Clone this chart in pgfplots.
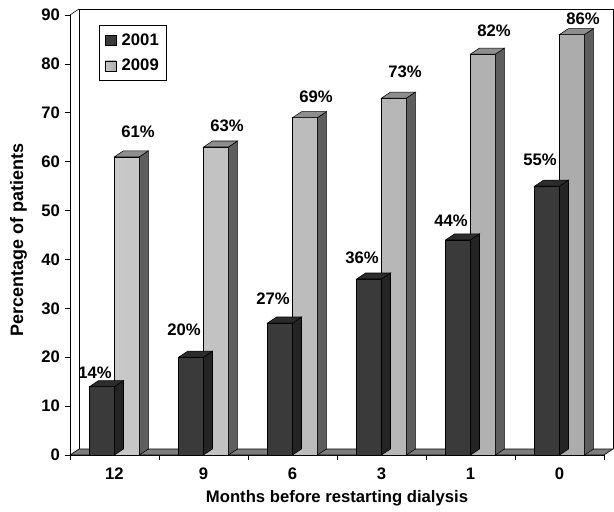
\documentclass[border=0pt]{standalone}
\usepackage{fontspec}
\setmainfont{Liberation Sans}
\usepackage{pgfplots}
\usepackage{pgfplotstable}
\pgfplotsset{compat=1.18}
\definecolor{darkfront}{HTML}{3A3A3A}
\definecolor{darktop}{HTML}{2C2C2C}
\definecolor{darkside}{HTML}{242424}
\definecolor{lightfrontL}{HTML}{C8C8C8}
\definecolor{lightfrontR}{HTML}{ABABAB}
\definecolor{lighttop}{HTML}{8E8E8E}
\definecolor{lightside}{HTML}{5E5E5E}
\definecolor{floorgray}{HTML}{7E7E7E}

\def\barhw{9.345}\def\depx{6.75}\def\depy{4.5}\def\yun{3.6667}

\newcommand\defdepth[3]{%
 \pgfdeclareplotmark{#1}{%
   \pgfmathsetmacro\hh{\val*\yun}%
   \pgfsetlinewidth{0.4pt}\pgfsetstrokecolor{black}%
   \pgfsetfillcolor{#3}%
   \pgfpathmoveto{\pgfpoint{\barhw pt}{0pt}}%
   \pgfpathlineto{\pgfpoint{\barhw pt+\depx pt}{\depy pt}}%
   \pgfpathlineto{\pgfpoint{\barhw pt+\depx pt}{\depy pt-\hh pt}}%
   \pgfpathlineto{\pgfpoint{\barhw pt}{-\hh pt}}%
   \pgfpathclose\pgfusepath{fill,stroke}%
   \pgfsetfillcolor{#2}%
   \pgfpathmoveto{\pgfpoint{-\barhw pt}{0pt}}%
   \pgfpathlineto{\pgfpoint{\barhw pt}{0pt}}%
   \pgfpathlineto{\pgfpoint{\barhw pt+\depx pt}{\depy pt}}%
   \pgfpathlineto{\pgfpoint{-\barhw pt+\depx pt}{\depy pt}}%
   \pgfpathclose\pgfusepath{fill,stroke}%
 }}
\defdepth{depthdark}{darktop}{darkside}
\defdepth{depthlight}{lighttop}{lightside}

\pgfplotstableread{
x v1 v2 l1 l2
0 14 61 8 19
1 20 63 21 15
2 27 69 18 15
3 36 73 15 20
4 44 82 13 17
5 55 86 20 10
}\data

\newcommand\lblfont{\bfseries\fontsize{12.5}{14}\selectfont}
\newcommand\ylblfont{\bfseries\fontsize{13.5}{15}\selectfont}

\begin{document}
\begin{tikzpicture}
\begin{axis}[
  scale only axis, width=400.5pt, height=330pt,
  xmin=-0.5, xmax=5.5, ymin=0, ymax=90,
  clip=false,
  axis lines*=left,
  axis line style={black, line width=0.5pt},
  xtick={0,...,5}, xticklabels={12,9,6,3,1,0},
  minor xtick={-0.5,0.5,...,5.5},
  major x tick style={draw=none},
  minor tick length=4pt,
  ytick={0,10,...,90}, major tick length=4pt,
  tick align=outside,
  tick style={black, line width=0.5pt},
  /pgf/number format/assume math mode=true,
  ticklabel style={font=\lblfont},
  xticklabel style={yshift=-2pt},
  xlabel={Months before restarting dialysis},
  ylabel={Percentage of patients},
  xlabel style={font=\lblfont, at={(axis description cs:0.5,0)}, anchor=center, yshift=-32.5pt},
  ylabel style={font=\ylblfont, at={(axis description cs:-0.0964,0.489)}, anchor=center},
  legend style={at={(0.054,0.977)}, anchor=north west, draw=black, line width=0.5pt,
    font=\lblfont, row sep=5pt, inner xsep=4pt, inner ysep=4pt},
  legend cell align=left,
  legend image code/.code={\draw[#1, draw=black, line width=0.4pt] (0pt,-3.75pt) rectangle (8.5pt,3.75pt); \path (10.5pt,0pt);},
]
% floor
\fill[floorgray] (axis cs:-0.5,0) -- (axis cs:5.5,0) -- ([shift={(\depx pt,\depy pt)}]axis cs:5.5,0) -- ([shift={(\depx pt,\depy pt)}]axis cs:-0.5,0) -- cycle;
\draw[black, line width=0.5pt] (axis cs:-0.5,0) -- (axis cs:5.5,0) -- ([shift={(\depx pt,\depy pt)}]axis cs:5.5,0) -- ([shift={(\depx pt,\depy pt)}]axis cs:-0.5,0) -- cycle;
% back wall
\draw[black, line width=0.5pt] ([shift={(\depx pt,\depy pt)}]axis cs:-0.5,0) -- ([shift={(\depx pt,\depy pt)}]axis cs:-0.5,90) -- ([shift={(\depx pt,\depy pt)}]axis cs:5.5,90) -- ([shift={(\depx pt,\depy pt)}]axis cs:5.5,0);
\draw[black, line width=0.5pt] (axis cs:-0.5,90) -- ([shift={(\depx pt,\depy pt)}]axis cs:-0.5,90);

% 2001 depth
\addplot[scatter, only marks, mark=depthdark, forget plot, point meta=y,
  scatter/use mapped color={draw=black, fill=black},
  visualization depends on={\thisrow{v1} \as \val}]
  table[x expr=\thisrow{x}-0.14, y=v1] {\data};
% 2001 front
\addplot[ybar, bar width=18.69pt, bar shift=0pt, fill=darkfront, draw=black, line width=0.4pt,
  visualization depends on={\thisrow{l1} \as \ly},
  nodes near coords={\pgfmathprintnumber{\pgfplotspointmeta}\%},
  every node near coord/.append style={font=\lblfont, black, anchor=south, inner sep=0pt,
     xshift=-5.25pt, yshift=0.75*\ly pt}]
  table[x expr=\thisrow{x}-0.14, y=v1] {\data};
\addlegendentry{2001}
% 2009 depth
\addplot[scatter, only marks, mark=depthlight, forget plot, point meta=y,
  scatter/use mapped color={draw=black, fill=black},
  visualization depends on={\thisrow{v2} \as \val}]
  table[x expr=\thisrow{x}+0.14, y=v2] {\data};
% 2009 front
\addplot[ybar, bar width=18.69pt, bar shift=0pt, left color=lightfrontL, right color=lightfrontR, draw=black, line width=0.4pt,
  visualization depends on={\thisrow{l2} \as \ly},
  nodes near coords={\pgfmathprintnumber{\pgfplotspointmeta}\%},
  every node near coord/.append style={font=\lblfont, black, anchor=south, inner sep=0pt,
     xshift=8.25pt, yshift=0.75*\ly pt}]
  table[x expr=\thisrow{x}+0.14, y=v2] {\data};
\addlegendentry{2009}
\end{axis}
\pgfresetboundingbox
\path (-52.5pt,-42pt) rectangle (408pt,341.25pt);
\end{tikzpicture}
\end{document}
